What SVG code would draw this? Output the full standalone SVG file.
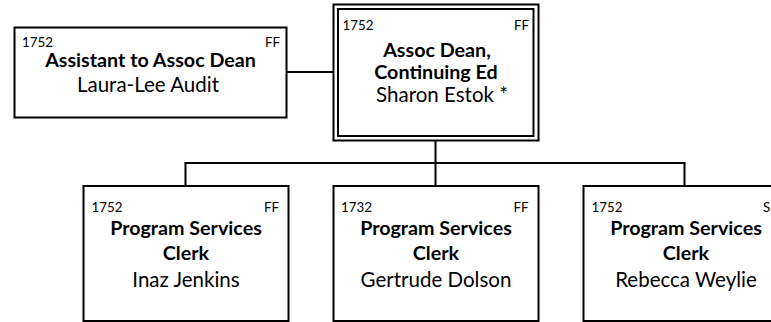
<svg xmlns="http://www.w3.org/2000/svg" width="771" height="322" viewBox="0 0 771 322">
<style>
.box{fill:#fff;stroke:#000;stroke-width:2}
.code{font-family:Lato,"Liberation Sans",sans-serif;font-size:13.3px;fill:#000}
.title{font-family:Lato,"Liberation Sans",sans-serif;font-size:19.7px;font-weight:bold;fill:#000;text-anchor:middle}
.name{font-family:Lato,"Liberation Sans",sans-serif;font-size:20.5px;fill:#000;text-anchor:middle}
.end{text-anchor:end}
.conn{stroke:#000;stroke-width:2;fill:none}
</style>
<rect width="771" height="322" fill="#fff"/>
<g id="connectors">
<line class="conn" x1="286.5" y1="72" x2="333.5" y2="72"/>
<line class="conn" x1="435.5" y1="140.5" x2="435.5" y2="163"/>
<line class="conn" x1="184.5" y1="163" x2="685.5" y2="163"/>
<line class="conn" x1="185.5" y1="163" x2="185.5" y2="186"/>
<line class="conn" x1="435.5" y1="163" x2="435.5" y2="186"/>
<line class="conn" x1="684.5" y1="163" x2="684.5" y2="186"/>
</g>
<g id="assistant">
<rect class="box" x="14.5" y="27.5" width="272" height="90"/>
<text class="code" x="22" y="47">1752</text>
<text class="code end" x="280" y="47">FF</text>
<text class="title" x="150.5" y="67">Assistant to Assoc Dean</text>
<text class="name" x="148" y="92">Laura-Lee Audit</text>
</g>
<g id="dean">
<rect class="box" x="333.5" y="4.5" width="205" height="136"/>
<rect class="box" x="338" y="9" width="195.5" height="127"/>
<text class="code" x="342.5" y="30">1752</text>
<text class="code end" x="529" y="30">FF</text>
<text class="title" x="437" y="56.5">Assoc Dean,</text>
<text class="title" x="436" y="78.5">Continuing Ed</text>
<text class="name" x="442" y="102">Sharon Estok *</text>
</g>
<g id="clerk1">
<rect class="box" x="83.5" y="186" width="205" height="135"/>
<text class="code" x="91.5" y="212">1752</text>
<text class="code end" x="279" y="212">FF</text>
<text class="title" x="186" y="235">Program Services</text>
<text class="title" x="186" y="260">Clerk</text>
<text class="name" x="186" y="287">Inaz Jenkins</text>
</g>
<g id="clerk2">
<rect class="box" x="333.5" y="186" width="205" height="135"/>
<text class="code" x="341" y="212">1732</text>
<text class="code end" x="528.5" y="212">FF</text>
<text class="title" x="436" y="235">Program Services</text>
<text class="title" x="436" y="260">Clerk</text>
<text class="name" x="436" y="287">Gertrude Dolson</text>
</g>
<g id="clerk3">
<rect class="box" x="583.5" y="186" width="205" height="135"/>
<text class="code" x="591.5" y="212">1752</text>
<text class="code" x="763" y="212">S</text>
<text class="title" x="686" y="235">Program Services</text>
<text class="title" x="686" y="260">Clerk</text>
<text class="name" x="686" y="287">Rebecca Weylie</text>
</g>
</svg>
